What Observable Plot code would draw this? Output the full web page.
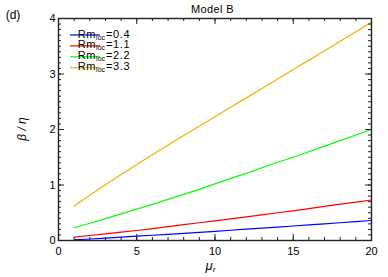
<!DOCTYPE html>
<html>
<head>
<meta charset="utf-8">
<script src="https://cdn.jsdelivr.net/npm/d3@7"></script>
<script src="https://cdn.jsdelivr.net/npm/@observablehq/plot@0.6"></script>
<style>
  html, body { margin: 0; padding: 0; background: #fff; }
</style>
</head>
<body>
<div id="chart"></div>
<script>
// ---- data ----
const mu = [1,2,3,4,5,6,7,8,9,10,11,12,13,14,15,16,17,18,19,20];
const seriesNames = ["0.4", "1.1", "2.2", "3.3"];
const seriesColors = ["#0000ff", "#ff0000", "#00ff00", "#ffaa00"];
const rm04 = [0.01,0.027,0.044,0.061,0.078,0.095,0.112,0.13,0.148,0.166,0.185,0.204,0.223,0.242,0.261,0.28,0.30,0.32,0.34,0.36];
const rm11 = [0.06,0.09,0.12,0.15,0.18,0.215,0.25,0.285,0.32,0.355,0.39,0.425,0.46,0.50,0.535,0.575,0.615,0.655,0.69,0.73];
const rm22 = [0.23,0.31,0.395,0.48,0.565,0.65,0.74,0.83,0.92,1.02,1.12,1.21,1.31,1.41,1.50,1.60,1.70,1.80,1.90,2.0];
const rm33 = [0.62,0.815,1.005,1.19,1.37,1.547,1.72,1.89,2.06,2.23,2.40,2.57,2.74,2.91,3.08,3.25,3.42,3.59,3.76,3.93];
const xMajor = [0,5,10,15,20];
const xMinor = d3.range(0, 21, 1);
const yMajor = [0,1,2,3,4];
const yMinor = d3.range(0, 41, 1).map(d => d / 10);
const title = "Model B";
const panel = "(d)";

const values = [rm04, rm11, rm22, rm33];
const table = seriesNames.flatMap((s, i) => mu.map((m, j) => ({mu: m, beta: values[i][j], series: s})));

// ---- layout ----
const W = 388, H = 277;
const mL = 58, mR = 17, mT = 18, mB = 37;
const pw = W - mL - mR, ph = H - mT - mB;
const major = 6, minor = 3;
const axisColor = "#222";

const chart = Plot.plot({
  width: W, height: H,
  marginLeft: mL, marginRight: mR, marginTop: mT, marginBottom: mB,
  style: {fontFamily: "'Liberation Sans', Arial, sans-serif", fontSize: "11px", background: "#fff", overflow: "visible"},
  x: {domain: [0, 20]},
  y: {domain: [0, 4]},
  color: {domain: seriesNames, range: seriesColors},
  marks: [
    Plot.line(table, {x: "mu", y: "beta", stroke: "series", z: "series", strokeWidth: 1.2}),
    // ticks pointing inward on all four sides
    Plot.ruleX(xMajor, {x: d => d, insetTop: ph - major, stroke: axisColor}),
    Plot.ruleX(xMajor, {x: d => d, insetBottom: ph - major, stroke: axisColor}),
    Plot.ruleX(xMinor, {x: d => d, insetTop: ph - minor, stroke: axisColor}),
    Plot.ruleX(xMinor, {x: d => d, insetBottom: ph - minor, stroke: axisColor}),
    Plot.ruleY(yMajor, {y: d => d, insetRight: pw - major, stroke: axisColor}),
    Plot.ruleY(yMajor, {y: d => d, insetLeft: pw - major, stroke: axisColor}),
    Plot.ruleY(yMinor, {y: d => d, insetRight: pw - minor, stroke: axisColor}),
    Plot.ruleY(yMinor, {y: d => d, insetLeft: pw - minor, stroke: axisColor}),
    Plot.frame({stroke: axisColor, strokeWidth: 1.4}),
    Plot.axisX({ticks: xMajor, tickSize: 0, tickPadding: 7, label: null, tickFormat: d3.format("d")}),
    Plot.axisY({ticks: yMajor, tickSize: 0, tickPadding: 3, label: null, tickFormat: d3.format("d")})
  ]
});
document.getElementById("chart").appendChild(chart);

const svg = d3.select(chart);
const font = "'Liberation Sans', Arial, sans-serif";

// title and panel letter
svg.append("text").attr("x", mL + pw / 2 - 2).attr("y", 13).attr("text-anchor", "middle")
  .attr("font-family", font).attr("font-size", 11).attr("letter-spacing", 0.4).attr("fill", "#000").text(title);
svg.append("text").attr("x", 13).attr("y", 19)
  .attr("font-family", font).attr("font-size", 12).attr("fill", "#000").text(panel);

// x label  μ_r
const xl = svg.append("text").attr("x", mL + pw / 2 - 4).attr("y", 270).attr("text-anchor", "middle")
  .attr("font-family", font).attr("font-size", 13).attr("font-style", "italic").attr("fill", "#000");
xl.append("tspan").text("μ");
xl.append("tspan").attr("font-size", 8).attr("dy", 2).text("r");

// y label  β / η
svg.append("text").attr("transform", `translate(26,${mT + ph / 2}) rotate(-90)`).attr("text-anchor", "middle")
  .attr("font-family", font).attr("font-size", 12).attr("font-style", "italic").attr("fill", "#000")
  .text("β / η");

// legend
const lg = svg.append("g");
seriesNames.forEach((s, i) => {
  const y = 35 + i * 10.9;
  lg.append("line").attr("x1", 70).attr("x2", 100).attr("y1", y).attr("y2", y)
    .attr("stroke", seriesColors[i]).attr("stroke-width", 1.2);
  const t = lg.append("text").attr("x", 104).attr("y", y + 2.5)
    .attr("font-family", font).attr("font-size", 11).attr("letter-spacing", 0.6).attr("fill", "#000");
  t.append("tspan").text("Rm");
  t.append("tspan").attr("font-size", 7).attr("dy", 2).attr("letter-spacing", 0).text("loc");
  t.append("tspan").attr("dy", -2).attr("dx", 1).text("=" + s);
});
</script>
</body>
</html>
